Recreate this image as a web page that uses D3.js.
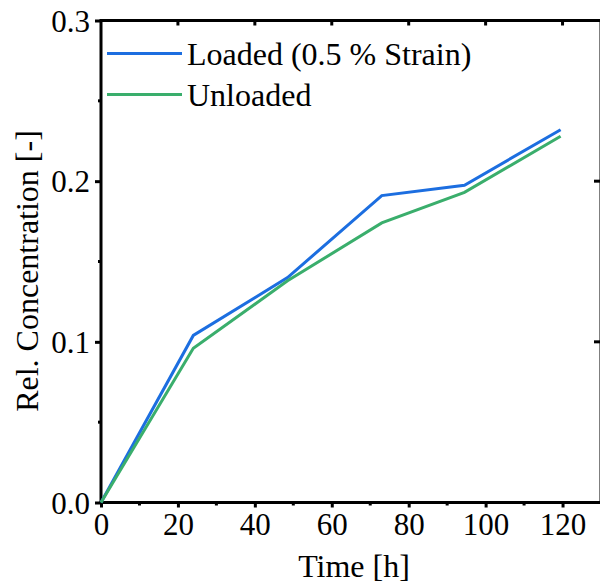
<!DOCTYPE html>
<html>
<head>
<meta charset="utf-8">
<script src="https://cdn.jsdelivr.net/npm/d3@7"></script>
<style>
  html, body { margin: 0; padding: 0; background: #fff; }
  svg { display: block; }
  text { font-family: "Liberation Serif", "Times New Roman", serif; fill: #000; }
</style>
</head>
<body>
<div id="chart"></div>
<script>
// hours of sampling
let time_h = [0, 24, 48.5, 73, 94.5, 119.5];
// relative concentration per series
let loaded = [0, 0.104, 0.140, 0.191, 0.1975, 0.232];
let unloaded = [0, 0.096, 0.138, 0.174, 0.193, 0.228];
let series_names = ["Loaded (0.5 % Strain)", "Unloaded"];
let x_ticks = [0, 20, 40, 60, 80, 100, 120];
let x_minor = [10, 30, 50, 70, 90, 110];
let y_ticks = [0, 0.1, 0.2, 0.3];
let y_minor = [0.05, 0.15, 0.25];

let colors = ["#1c6ee0", "#3aae6c"];

let layout = {
  width: 600, height: 588,
  left: 101, right: 601, top: 20.5, bottom: 502.5,
  font: { tick: 31, title: 32, legend: 32 }
};

let svg = d3.select("#chart").append("svg")
  .attr("width", layout.width).attr("height", layout.height);

let x = d3.scaleLinear().domain([0, 130]).range([layout.left, layout.right]);
let y = d3.scaleLinear().domain([0, 0.3]).range([layout.bottom, layout.top]);

// frame
let frame = svg.append("g");
frame.append("line").attr("x1", layout.left).attr("x2", layout.right + 1.5)
  .attr("y1", layout.top).attr("y2", layout.top).attr("stroke", "#000").attr("stroke-width", 3);
frame.append("line").attr("x1", layout.right).attr("x2", layout.right)
  .attr("y1", layout.top).attr("y2", layout.bottom).attr("stroke", "#000").attr("stroke-width", 3);

// bottom axis
let ax_b = svg.append("g").attr("transform", "translate(0," + layout.bottom + ")")
  .call(d3.axisBottom(x).tickValues(x_ticks).tickSizeInner(5).tickSizeOuter(0).tickPadding(5).tickFormat(d3.format("d")));
ax_b.select(".domain").attr("stroke-width", 3).attr("d", "M" + (layout.left - 1.5) + ",0H" + layout.right);
ax_b.selectAll(".tick line").attr("stroke-width", 3);
ax_b.selectAll(".tick text").style("font-size", layout.font.tick + "px");
ax_b.selectAll(".minor").data(x_minor).enter().append("line")
  .attr("x1", d => x(d)).attr("x2", d => x(d)).attr("y1", 0).attr("y2", 3)
  .attr("stroke", "#000").attr("stroke-width", 3);

// left axis
let ax_l = svg.append("g").attr("transform", "translate(" + layout.left + ",0)")
  .call(d3.axisLeft(y).tickValues(y_ticks).tickSizeInner(6).tickSizeOuter(0).tickPadding(5).tickFormat(d3.format(".1f")));
ax_l.select(".domain").attr("stroke-width", 3).attr("d", "M0," + (layout.top - 1.5) + "V" + (layout.bottom + 1.5));
ax_l.selectAll(".tick line").attr("stroke-width", 3);
ax_l.selectAll(".tick text").style("font-size", layout.font.tick + "px").attr("dy", "0.34em");
ax_l.selectAll(".minor").data(y_minor).enter().append("line")
  .attr("y1", d => y(d)).attr("y2", d => y(d)).attr("x1", 0).attr("x2", -3)
  .attr("stroke", "#000").attr("stroke-width", 3);

// mirrored ticks on top and right
svg.append("g").selectAll("line").data(x_ticks.slice(1)).enter().append("line")
  .attr("x1", d => x(d)).attr("x2", d => x(d)).attr("y1", layout.top).attr("y2", layout.top + 5)
  .attr("stroke", "#000").attr("stroke-width", 3);
svg.append("g").selectAll("line").data(y_ticks.slice(1, 3)).enter().append("line")
  .attr("y1", d => y(d)).attr("y2", d => y(d)).attr("x1", layout.right).attr("x2", layout.right - 7)
  .attr("stroke", "#000").attr("stroke-width", 3);

// axis titles
svg.append("text").attr("x", 354).attr("y", 577).attr("text-anchor", "middle")
  .style("font-size", layout.font.title + "px").text("Time [h]");
svg.append("text").attr("transform", "translate(38,271) rotate(-90)").attr("text-anchor", "middle")
  .style("font-size", layout.font.title + "px").text("Rel. Concentration [-]");

// lines
let line = d3.line().x(d => x(d[0])).y(d => y(d[1]));
[loaded, unloaded].forEach(function(s, i) {
  svg.append("path").datum(time_h.map((t, j) => [t, s[j]]))
    .attr("d", line).attr("fill", "none").attr("stroke", colors[i])
    .attr("stroke-width", 3).attr("stroke-linejoin", "miter");
});

// legend
let legend_y = [53.5, 94.5];
series_names.forEach(function(n, i) {
  svg.append("line").attr("x1", 107).attr("x2", 182).attr("y1", legend_y[i]).attr("y2", legend_y[i])
    .attr("stroke", colors[i]).attr("stroke-width", 3);
  svg.append("text").attr("x", 187).attr("y", legend_y[i] + 11).style("font-size", layout.font.legend + "px").text(n);
});
</script>
</body>
</html>
